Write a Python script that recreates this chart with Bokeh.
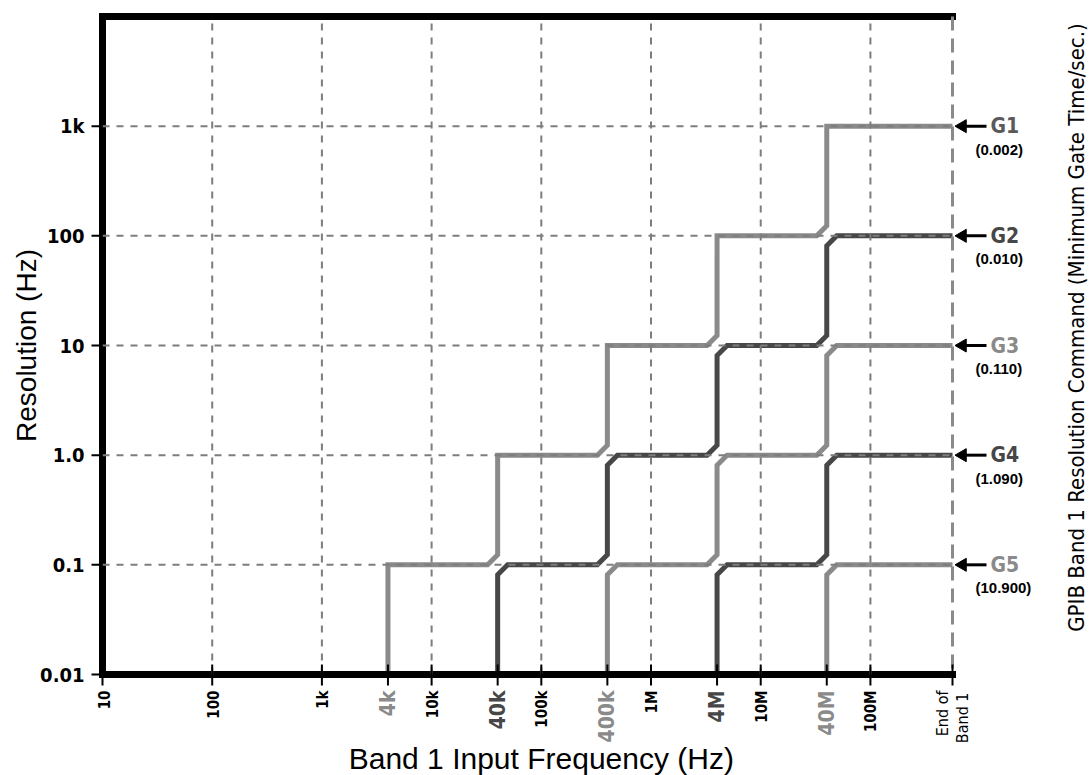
import math
from bokeh.plotting import figure
from bokeh.models import ColumnDataSource, Range1d
from bokeh.core.properties import value
from bokeh.embed import file_html
from bokeh.resources import INLINE

# ---------------- data ----------------
x_decades = [10, 100, 1e3, 1e4, 1e5, 1e6, 1e7, 1e8]
x_decade_labels = ["10", "100", "1k", "10k", "100k", "1M", "10M", "100M"]
step_freqs = [4e3, 4e4, 4e5, 4e6, 4e7]
step_labels = ["4k", "40k", "400k", "4M", "40M"]
band_end = 5.6e8
y_ticks = [0.01, 0.1, 1.0, 10, 100, 1000]
y_tick_labels = ["0.01", "0.1", "1.0", "10", "100", "1k"]
y_top = 1e4

commands = ["G1", "G2", "G3", "G4", "G5"]
gate_times = ["(0.002)", "(0.010)", "(0.110)", "(1.090)", "(10.900)"]
command_levels = [1000, 100, 10, 1.0, 0.1]

g1_freq = [4e3, 4e4, 4e5, 4e6, 4e7]
g1_res = [0.1, 1.0, 10, 100, 1000]
g2_freq = [4e4, 4e5, 4e6, 4e7]
g2_res = [0.1, 1.0, 10, 100]
g3_freq = [4e5, 4e6, 4e7]
g3_res = [0.1, 1.0, 10]
g4_freq = [4e6, 4e7]
g4_res = [0.1, 1.0]
g5_freq = [4e7]
g5_res = [0.1]

# ---------------- style ----------------
LIGHT = "#8a8a8a"
DARK = "#474747"
GRID = "#7d7d7d"
COND = "DejaVu Sans Condensed"
REG = "Liberation Sans"
line_colors = [LIGHT, DARK, LIGHT, DARK, LIGHT]
cmd_label_colors = ["#5a5a5a", DARK, LIGHT, DARK, LIGHT]
step_label_colors = [LIGHT, DARK, LIGHT, DARK, LIGHT]

W, H = 1092, 775
BL, BR, BT, BB = 102, 140, 16, 101          # data-area margins in pixels
x0, y0 = x_decades[0], y_ticks[0]
dpx = (W - BL - BR) / math.log10(band_end / x0)   # pixels per decade (x)
dpy = (H - BT - BB) / math.log10(y_top / y0)      # pixels per decade (y)


def sx(x, px):
    """x data value shifted by px screen pixels (right positive)."""
    return x * 10 ** (px / dpx)


def sy(y, px):
    """y data value shifted by px screen pixels (up positive)."""
    return y * 10 ** (px / dpy)


p = figure(width=W, height=H, x_axis_type="log", y_axis_type="log",
           x_range=Range1d(sx(x0, -BL), sx(band_end, BR)),
           y_range=Range1d(sy(y0, -BB), sy(y_top, BT)),
           x_axis_location=None, y_axis_location=None,
           output_backend="svg", toolbar_location=None,
           min_border=0)
p.outline_line_color = None
p.background_fill_color = "white"
p.border_fill_color = "white"
p.grid.visible = False

cx = 10 ** (10 / dpx)    # chamfer size ~10 px
cy = 10 ** (10 / dpy)


def step_path(freqs, levels, square_tops):
    xs, ys = [freqs[0]], [y0]
    for i, (f, r) in enumerate(zip(freqs, levels)):
        if i > 0:
            prev = levels[i - 1]
            xs += [f / cx, f]
            ys += [prev, prev * cy]
        if square_tops:
            xs.append(f); ys.append(r)
        else:
            xs += [f, f * cx]
            ys += [r / cy, r]
    xs.append(band_end); ys.append(levels[-1])
    return xs, ys


# ---- curves ----
series = [(g1_freq, g1_res), (g2_freq, g2_res), (g3_freq, g3_res),
          (g4_freq, g4_res), (g5_freq, g5_res)]
for k, (fr, rs) in enumerate(series):
    xs, ys = step_path(fr, rs, square_tops=(k == 0))
    p.line(xs, ys, line_color=line_colors[k], line_width=5, line_join="miter")

# ---- frame borders ----
p.segment(x0=[x0, x0, x0], y0=[y0, y_top, y0],
          x1=[x0, band_end, band_end], y1=[y_top, y_top, y0],
          line_color="black", line_width=7, line_cap="square")

# ---- grid (over the curves) ----
gx = x_decades[1:]
p.segment(x0=gx, y0=[y0] * len(gx), x1=gx, y1=[y_top] * len(gx),
          line_color=GRID, line_width=2, line_dash="7 7")
gy = y_ticks[1:]
p.segment(x0=[x0] * len(gy), y0=gy, x1=[band_end] * len(gy), y1=gy,
          line_color=GRID, line_width=2, line_dash="7 7")

# right edge (dashed)
p.segment(x0=[band_end], y0=[y_top], x1=[band_end], y1=[y0],
          line_color=LIGHT, line_width=3, line_dash="14 8")

# ---- ticks ----
xt = x_decades + step_freqs + [band_end]
p.segment(x0=xt, y0=[sy(y0, 10)] * len(xt), x1=xt, y1=[sy(y0, -11)] * len(xt),
          line_color="black", line_width=2)
p.segment(x0=[sx(x0, -11)] * len(y_ticks), y0=y_ticks, x1=[x0] * len(y_ticks), y1=y_ticks,
          line_color="black", line_width=2)

# ---- y tick labels ----
p.text(x=[sx(x0, -18)] * len(y_ticks), y=y_ticks, text=y_tick_labels,
       text_align="right", text_baseline="middle", text_font=value(COND),
       text_font_style="bold", text_font_size="20px", text_color="black")

# ---- x tick labels (rotated) ----
p.text(x=[sx(v, 1) for v in x_decades], y=[sy(y0, -16)] * len(x_decades),
       text=x_decade_labels, angle=math.pi / 2, text_align="right",
       text_baseline="middle", text_font=value(COND), text_font_style="bold",
       text_font_size="15px", text_color="black")
step_src = ColumnDataSource(dict(x=step_freqs, y=[sy(y0, -16)] * len(step_freqs),
                                 text=step_labels, color=step_label_colors))
p.text(x="x", y="y", text="text", source=step_src, angle=math.pi / 2,
       text_align="right", text_baseline="middle", text_font=value(COND),
       text_font_style="bold", text_font_size="21px", text_color="color")
p.text(x=[sx(band_end, -10), sx(band_end, 10)], y=[sy(y0, -16), sy(y0, -18)],
       text=["End of", "Band 1"], angle=math.pi / 2, text_align="right",
       text_baseline="middle", text_font=value(COND), text_font_size="16px",
       text_color="black")

# ---- right side: arrows + command labels ----
n = len(command_levels)
p.segment(x0=[sx(band_end, 12)] * n, y0=command_levels,
          x1=[sx(band_end, 34)] * n, y1=command_levels,
          line_color="black", line_width=3)
p.scatter(x=[sx(band_end, 10)] * n, y=command_levels, marker="triangle",
          angle=math.pi / 2, size=13, fill_color="black", line_color="black")
cmd_src = ColumnDataSource(dict(x=[sx(band_end, 38)] * n, y=command_levels,
                                text=commands, color=cmd_label_colors))
p.text(x="x", y="y", text="text", source=cmd_src, text_align="left",
       text_baseline="middle", text_font=value(COND), text_font_style="bold",
       text_font_size="21px", text_color="color")
p.text(x=[sx(band_end, 23)] * n, y=[sy(v, -23) for v in command_levels], text=gate_times,
       text_align="left", text_baseline="middle", text_font=value(REG),
       text_font_style="bold", text_font_size="15px", text_color="black")

# ---- axis titles ----
p.text(x=[sx(x0, -76)], y=[10], text=["Resolution (Hz)"], angle=math.pi / 2,
       text_align="center", text_baseline="middle", text_font=value(REG),
       text_font_size="28px", text_color="black")
p.text(x=[1e5], y=[sy(y0, -84)], text=["Band 1 Input Frequency (Hz)"],
       text_align="center", text_baseline="middle", text_font=value(REG),
       text_font_size="30px", text_color="black")
p.text(x=[sx(band_end, 124)], y=[10 ** (math.log10(y_top) - 311 / dpy)],
       text=["GPIB Band 1 Resolution Command (Minimum Gate Time/sec.)"],
       angle=math.pi / 2, text_align="center", text_baseline="middle",
       text_font=value(COND), text_font_size="22px", text_color="black")

open("out.html", "w").write(file_html(p, INLINE))
